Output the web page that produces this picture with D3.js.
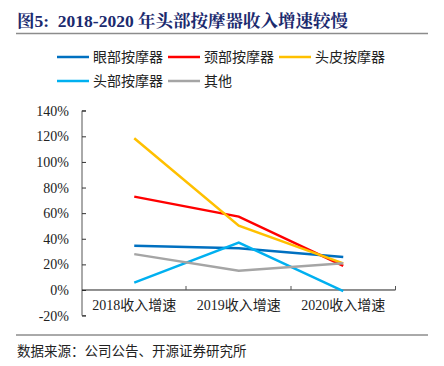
<!DOCTYPE html>
<html>
<head>
<meta charset="utf-8">
<script src="https://cdn.jsdelivr.net/npm/d3@7/dist/d3.min.js"></script>
<style>
  body { margin: 0; background: #fff; }
  svg { display: block; }
</style>
</head>
<body>
<svg width="444" height="366"></svg>
<script>

let categories = ['2018收入增速', '2019收入增速', '2020收入增速'];
let seriesNames = ['眼部按摩器', '颈部按摩器', '头皮按摩器', '头部按摩器', '其他'];
let eyeValues = [34.6, 32.6, 25.8];
let neckValues = [72.9, 57.3, 18.8];
let scalpValues = [118.5, 50.2, 20.8];
let headValues = [5.7, 37.0, -0.8];
let otherValues = [28.0, 15.0, 20.8];
let yTicks = [-20, 0, 20, 40, 60, 80, 100, 120, 140];

let colors = ['#0070C0', '#FF0000', '#FFC000', '#00B0F0', '#A5A5A5'];
let series = [eyeValues, neckValues, scalpValues, headValues, otherValues];

let svg = d3.select('svg');
let serif = '"Liberation Serif", "Times New Roman", "Noto Sans CJK SC", serif';
let cjk = '"Noto Sans CJK SC", sans-serif';

// title
svg.append('text')
   .attr('x', 17)
   .attr('y', 27)
   .attr('font-family', '"Liberation Serif", "Noto Serif CJK SC", "Noto Sans CJK SC", serif')
   .attr('font-weight', 'bold')
   .attr('font-size', 17.5)
   .attr('fill', '#1B2A6E')
   .attr('xml:space', 'preserve')
   .text('图5:  2018-2020 年头部按摩器收入增速较慢');

svg.append('line')
   .attr('x1', 16).attr('x2', 428)
   .attr('y1', 33.5).attr('y2', 33.5)
   .attr('stroke', '#8c8c8c')
   .attr('stroke-width', 1.5);

svg.append('line')
   .attr('x1', 16).attr('x2', 428)
   .attr('y1', 335).attr('y2', 335)
   .attr('stroke', '#555')
   .attr('stroke-width', 1);

svg.append('text')
   .attr('x', 17)
   .attr('y', 356)
   .attr('font-family', cjk)
   .attr('font-size', 13.5)
   .attr('fill', '#222')
   .text('数据来源：公司公告、开源证券研究所');

// legend
let legendPos = [[57, 57], [168, 57], [279, 57], [57, 81], [168, 81]];
seriesNames.forEach(function(name, i) {
  let g = svg.append('g')
             .attr('transform', 'translate(' + legendPos[i][0] + ',' + legendPos[i][1] + ')');
  g.append('line')
   .attr('x1', 0).attr('x2', 32)
   .attr('y1', 0).attr('y2', 0)
   .attr('stroke', colors[i])
   .attr('stroke-width', 2.5);
  g.append('text')
   .attr('x', 36)
   .attr('y', 5)
   .attr('font-family', cjk)
   .attr('font-size', 14)
   .attr('fill', '#222')
   .text(name);
});

// scales
let xScale = d3.scalePoint()
               .domain(categories)
               .range([82, 395.5])
               .padding(0.5);

let yScale = d3.scaleLinear()
               .domain([-20, 140])
               .range([315.6, 110.7]);

let yAxis = d3.axisLeft(yScale)
              .tickValues(yTicks)
              .tickSize(-4)
              .tickPadding(13)
              .tickFormat(function(d) { return d + '%'; });

let yAxisG = svg.append('g')
                .attr('transform', 'translate(82,0)')
                .call(yAxis);
yAxisG.select('.domain')
      .attr('d', 'M4,' + yScale(140) + 'H0V' + yScale(-20) + 'H4')
      .attr('stroke', '#555');
yAxisG.selectAll('.tick line').attr('stroke', '#333');
yAxisG.selectAll('.tick text')
      .attr('font-family', serif)
      .attr('font-size', 14)
      .attr('fill', '#222');

// x axis on zero line
let bandEdges = [82, 186, 291, 395.5];
svg.append('line')
   .attr('x1', 82).attr('x2', 395.5)
   .attr('y1', yScale(0)).attr('y2', yScale(0))
   .attr('stroke', '#222');
bandEdges.slice(1).forEach(function(x) {
  svg.append('line')
     .attr('x1', x).attr('x2', x)
     .attr('y1', yScale(0)).attr('y2', yScale(0) - 4)
     .attr('stroke', '#555');
});

svg.selectAll('.cat')
   .data(categories)
   .enter()
   .append('text')
   .attr('class', 'cat')
   .attr('x', function(d) { return xScale(d); })
   .attr('y', 310)
   .attr('text-anchor', 'middle')
   .attr('font-family', serif)
   .attr('font-size', 14)
   .attr('fill', '#222')
   .text(function(d) { return d; });

// lines
let line = d3.line()
             .x(function(d, i) { return xScale(categories[i]); })
             .y(function(d) { return yScale(d); });

series.forEach(function(values, i) {
  svg.append('path')
     .attr('d', line(values))
     .attr('fill', 'none')
     .attr('stroke', colors[i])
     .attr('stroke-width', 2.5);
});

</script>
</body>
</html>
